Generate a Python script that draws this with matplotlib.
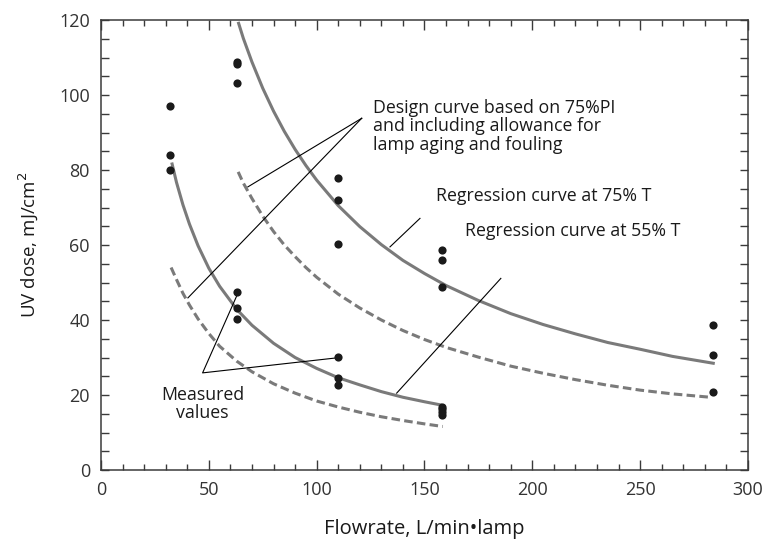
import numpy as np
import matplotlib
matplotlib.use("Agg")
import matplotlib.pyplot as plt
from matplotlib.ticker import MultipleLocator

plt.rcParams['font.family'] = ['Open Sans', 'DejaVu Sans']

# measured points (flowrate, UV dose)
meas_q = [32, 32, 32, 63, 63, 63, 63, 63, 63,
          110, 110, 110, 110, 110, 110,
          158, 158, 158, 158, 158, 158, 158,
          284, 284, 284]
meas_dose = [97.1, 84.0, 80.0, 108.8, 108.3, 103.2, 47.5, 43.2, 40.3,
             77.9, 72.0, 60.3, 30.1, 24.5, 22.7,
             58.7, 56.0, 48.7, 16.9, 16.2, 15.5, 14.8,
             38.7, 30.7, 20.9]

# regression curve at 75% T (solid, upper)
reg75_q = [63.6, 66, 70, 75, 80, 85, 90, 95, 100, 110, 120, 130, 140, 150,
           160, 175, 190, 205, 220, 235, 250, 265, 284.6]
reg75_dose = [119.5, 115.1, 108.8, 101.8, 95.7, 90.3, 85.5, 81.2, 77.3, 70.5, 64.9,
              60.1, 55.9, 52.4, 49.2, 45.2, 41.7, 38.8, 36.3, 34.0, 32.2, 30.3, 28.4]

# design curve for 75% T (dashed, upper)
des75_q = [63.6, 66, 70, 75, 80, 85, 90, 95, 100, 110, 120, 130, 140, 150,
           160, 175, 190, 205, 220, 235, 250, 265, 282.5]
des75_dose = [79.5, 76.5, 72.4, 67.7, 63.6, 60.0, 56.9, 54.0, 51.4, 46.9, 43.2,
              40.0, 37.2, 34.8, 32.7, 30.1, 27.7, 25.8, 24.1, 22.6, 21.3, 20.3, 19.4]

# regression curve at 55% T (solid, lower)
reg55_q = [32.8, 35, 38, 41, 45, 50, 55, 63, 70, 80, 90, 100, 110, 120, 130, 140, 150, 158]
reg55_dose = [82.0, 76.7, 70.7, 65.6, 59.8, 53.8, 49.0, 42.8, 38.6, 33.8, 30.0,
              27.1, 24.6, 22.7, 20.9, 19.4, 18.2, 17.3]

# design curve for 55% T (dashed, lower)
des55_q = [32.5, 35, 38, 41, 45, 50, 55, 63, 70, 80, 90, 100, 110, 120, 130, 140, 150, 158.5]
des55_dose = [54.0, 50.8, 47.1, 44.0, 40.3, 36.4, 33.0, 29.0, 26.2, 23.0, 20.5,
              18.4, 16.8, 15.4, 14.2, 13.2, 12.3, 11.6]

curve_col = '#7a7a7a'
text_col = '#1a1a1a'

fig = plt.figure(figsize=(7.67, 5.45), dpi=100)
ax = fig.add_axes([0.1317, 0.1376, 0.8435, 0.8257])

ax.plot(reg75_q, reg75_dose, color=curve_col, lw=2.2, solid_capstyle='butt')
ax.plot(reg55_q, reg55_dose, color=curve_col, lw=2.2, solid_capstyle='butt')
ax.plot(des75_q, des75_dose, color=curve_col, lw=2.2, dashes=(2.8, 1.4))
ax.plot(des55_q, des55_dose, color=curve_col, lw=2.2, dashes=(2.8, 1.4))
ax.plot(meas_q, meas_dose, 'o', color='#1a1a1a', ms=5.9, mec='none', zorder=5)

# leader lines
lk = dict(color='black', lw=0.8)
ax.plot([120.9, 68.1], [93.8, 75.5], **lk)
ax.plot([120.9, 40.3], [93.8, 45.9], **lk)
ax.plot([147.9, 134.0], [67.1, 59.5], **lk)
ax.plot([185.4, 137.1], [51.1, 20.5], **lk)
ax.plot([63.6, 47.1, 110.8], [47.3, 25.9, 30.0], **lk)

txt = dict(fontsize=12.8, color=text_col)
ax.text(126.1, 99.0, "Design curve based on 75%PI\nand including allowance for\nlamp aging and fouling",
        va='top', ha='left', linespacing=1.05, **txt)
ax.text(155.5, 73.0, "Regression curve at 75% T", va='center', ha='left', **txt)
ax.text(168.8, 63.7, "Regression curve at 55% T", va='center', ha='left', **txt)
ax.text(47.1, 17.6, "Measured\nvalues", va='center', ha='center', linespacing=1.05, **txt)

ax.set_xlim(0, 300)
ax.set_ylim(0, 120)
ax.xaxis.set_major_locator(MultipleLocator(50))
ax.xaxis.set_minor_locator(MultipleLocator(10))
ax.yaxis.set_major_locator(MultipleLocator(20))
ax.yaxis.set_minor_locator(MultipleLocator(5))

ax.tick_params(axis='both', which='both', direction='in', top=True, right=True,
               color='#3a3a3a', width=1.0, labelsize=13, labelcolor='#333333')
ax.tick_params(axis='x', which='major', length=7, pad=8)
ax.tick_params(axis='x', which='minor', length=4.3)
ax.tick_params(axis='y', which='major', length=6, pad=8)
ax.tick_params(axis='y', which='minor', length=6)
for s in ax.spines.values():
    s.set_color('#3a3a3a')
    s.set_linewidth(1.1)

ax.set_xlabel("Flowrate, L/min•lamp", fontsize=14.5, color=text_col, labelpad=14)
ax.set_ylabel("UV dose, mJ/cm$^2$", fontsize=13.5, color=text_col, labelpad=14)

fig.savefig("out.png", dpi=100)
